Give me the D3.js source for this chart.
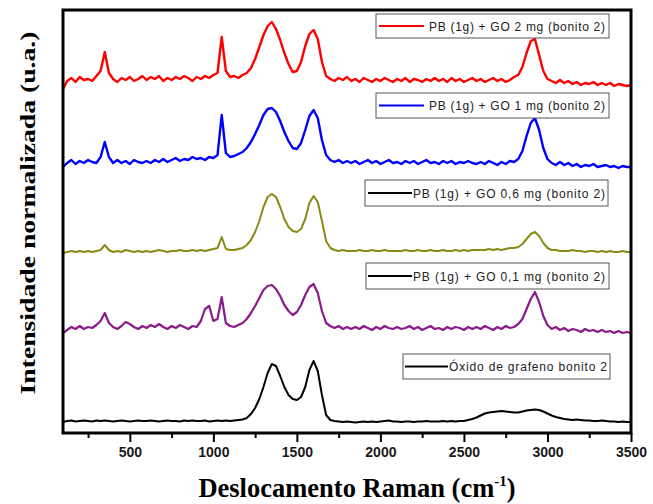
<!DOCTYPE html>
<html><head><meta charset="utf-8">
<script src="https://cdn.jsdelivr.net/npm/d3@7"></script>
<style>body{margin:0;background:#fff}svg{display:block}</style>
</head><body>
<script>
// Raman shift grid (cm-1)
const shift = [100,125,150,175,200,225,250,275,300,325,
350,375,400,425,450,475,500,525,550,575,
600,625,650,675,700,725,750,775,800,825,
850,875,900,925,950,975,1000,1025,1050,1075,
1100,1125,1150,1175,1200,1225,1250,1275,1300,1325,
1350,1375,1400,1425,1450,1475,1500,1525,1550,1575,
1600,1625,1650,1675,1700,1725,1750,1775,1800,1825,
1850,1875,1900,1925,1950,1975,2000,2025,2050,2075,
2100,2125,2150,2175,2200,2225,2250,2275,2300,2325,
2350,2375,2400,2425,2450,2475,2500,2525,2550,2575,
2600,2625,2650,2675,2700,2725,2750,2775,2800,2825,
2850,2875,2900,2925,2950,2975,3000,3025,3050,3075,
3100,3125,3150,3175,3200,3225,3250,3275,3300,3325,
3350,3375,3400,3425,3450,3475,3500];

// normalized intensity (stacked, arbitrary units)
const oxidoGrafeno = [11,12,12.5,11.5,12,12.5,12,11.5,12.5,12,
12.5,12,11.5,12,12.5,12,11.5,12,12.5,12,
12,12.5,12,11.5,12,12.5,12,12,11.5,12.5,
12,12.5,12,12,12.5,11.5,12,12.5,12,12.5,
12,12.5,13,13.5,15,19,25,34,46,60,
69,67,57,46,38,34,33,36,46,63,
72,62,38,18,13,12,11.5,11,11.5,11,
10.5,11,11.5,11,11.5,11,11.5,12,12.5,11.5,
11.5,11,11.5,11.5,11,11.5,11.5,12,11.5,11.5,
11.5,12,11.5,12,11.5,12,12,13,14,15.5,
17.5,19.5,20.5,21,21.5,22,21.5,21,20.5,20.5,
21.5,22.5,23,23.5,23,21.5,19.5,17.5,16,15,
14,13.5,13,13.5,13,12.5,12.5,12,12,12.5,
12,11.5,11.5,11,11.5,11,11];

const go01 = [100,103,106,104,107,104,106,105,108,112,
120,110,106,104,107,111,109,106,104,107,
105,108,106,109,106,104,107,105,108,106,
104,107,106,112,124,127,112,114,136,110,
107,106,108,110,114,120,127,135,143,147,
148,144,137,128,122,118,121,128,138,146,
149,140,122,110,107,105,107,104,106,104,
106,104,107,105,103,106,104,107,105,104,
106,104,105,107,104,106,103,105,107,104,
105,103,106,104,106,105,103,106,104,106,
104,107,105,103,106,104,107,105,106,109,
114,124,134,141,131,117,108,104,106,103,
105,102,104,103,101,104,102,103,101,103,
101,102,100,102,100,101,100];

const go06 = [180,181,182,181,182,181,182,181,182,183,
188,183,181,182,181,183,182,181,182,181,
182,181,182,183,182,181,182,182,183,182,
182,183,182,183,182,183,184,185,196,184,
183,183,184,185,188,193,201,212,226,236,
239,236,226,214,206,202,201,204,214,230,
237,231,212,192,185,183,182,183,182,182,
182,183,182,182,183,182,182,183,182,182,
182,182,183,182,182,183,182,182,183,182,
182,183,182,182,183,182,183,182,183,183,
183,183,184,183,184,183,184,185,185,186,
189,194,199,201,197,190,185,183,183,182,
182,182,183,182,182,181,182,182,181,182,
181,182,181,181,182,181,181];

const go1 = [266,270,273,269,272,270,273,271,270,276,
291,276,270,273,270,272,269,273,271,270,
272,270,273,271,274,271,273,275,272,274,
273,276,274,275,273,276,275,278,318,280,
276,277,279,281,285,291,299,308,318,324,
325,321,312,301,292,285,284,290,303,317,
323,315,293,278,273,271,273,270,272,270,
272,269,271,273,270,272,269,271,273,270,
271,269,272,270,272,269,271,273,270,271,
269,272,270,272,269,271,270,272,270,269,
271,269,272,270,268,271,269,272,271,274,
282,297,310,315,303,285,274,270,268,271,
268,270,267,269,266,268,267,269,266,267,
268,266,267,265,267,266,266];

const go2 = [344,352,355,351,356,353,354,352,357,362,
381,360,354,351,355,353,356,352,354,357,
353,356,354,357,352,355,353,356,354,357,
355,352,356,354,357,355,358,360,396,362,
356,357,355,358,360,365,374,386,398,407,
411,404,393,380,369,361,362,371,387,399,
403,394,371,357,354,352,355,353,356,352,
354,351,355,353,351,354,352,355,353,351,
354,352,355,351,354,353,351,354,352,355,
352,354,351,355,352,354,351,353,355,352,
354,351,353,355,352,354,351,353,356,358,
366,380,392,394,378,362,354,352,350,353,
350,352,349,351,348,350,349,351,348,350,
348,350,347,349,348,347,348];

const seriesNames = ["PB (1g) + GO 2 mg (bonito 2)","PB (1g) + GO 1 mg (bonito 2)","PB (1g) + GO 0,6 mg (bonito 2)","PB (1g) + GO 0,1 mg (bonito 2)","Óxido de grafeno bonito 2"];
const seriesValues = [go2, go1, go06, go01, oxidoGrafeno];
const seriesColors = ["#ff0000","#0000ff","#8a8a14","#8b1a8b","#000000"];
const seriesWidths = [2.4,2.4,2,2.2,2];
const legendColors = ["#ff0000","#0000ff","#000000","#000000","#000000"];
const xTicks = [500,1000,1500,2000,2500,3000,3500];
const xMinorTicks = [250,750,1250,1750,2250,2750,3250];

const W=653,H=504;
const svg=d3.select("body").append("svg").attr("width",W).attr("height",H);
const x=d3.scaleLinear().domain([100,3500]).range([63,631]);
const y=d3.scaleLinear().domain([0,423]).range([433,10]);

const line=d3.line().x((d,i)=>x(shift[i])).y(d=>y(d));
seriesValues.forEach((vals,k)=>{
  svg.append("path").datum(vals).attr("d",line)
    .attr("fill","none").attr("stroke",seriesColors[k])
    .attr("stroke-width",seriesWidths[k]).attr("stroke-linejoin","round");
});

// axes
const gx=svg.append("g").attr("transform","translate(0,433)");
gx.call(d3.axisBottom(x).tickValues(xTicks).tickSize(9).tickFormat(d3.format("d")));
gx.select(".domain").remove();
gx.selectAll(".tick line").attr("stroke","#000").attr("stroke-width",2);
gx.selectAll(".tick text").attr("font-family","'Liberation Sans',Arial,sans-serif")
  .attr("font-weight","bold").attr("font-size","14px").attr("fill","#1a1a1a").attr("dy","0.85em");
const gm=svg.append("g").attr("transform","translate(0,433)");
gm.call(d3.axisBottom(x).tickValues(xMinorTicks).tickSize(5).tickFormat(""));
gm.select(".domain").remove();
gm.selectAll(".tick line").attr("stroke","#000").attr("stroke-width",2);

// frame
svg.append("rect").attr("x",63).attr("y",10).attr("width",568).attr("height",423)
  .attr("fill","none").attr("stroke","#000").attr("stroke-width",3);

// legends
const legendBoxes=[
 {x:376,y:14,w:233,h:24,lx1:379,lx2:424,tx:429,tw:176},
 {x:376,y:93,w:233,h:25,lx1:379,lx2:424,tx:429,tw:176},
 {x:365,y:180,w:243,h:26,lx1:368,lx2:412,tx:413,tw:192},
 {x:366,y:263,w:243,h:26,lx1:368,lx2:412,tx:413,tw:192},
 {x:403,y:354,w:207,h:25,lx1:405,lx2:448,tx:449,tw:158}
];
legendBoxes.forEach((b,k)=>{
  const g=svg.append("g");
  g.append("rect").attr("x",b.x).attr("y",b.y).attr("width",b.w).attr("height",b.h)
   .attr("fill","#fff").attr("stroke","#555").attr("stroke-width",1);
  const cy=b.y+b.h/2;
  g.append("line").attr("x1",b.lx1).attr("x2",b.lx2).attr("y1",cy).attr("y2",cy)
   .attr("stroke",legendColors[k]).attr("stroke-width",2);
  g.append("text").attr("x",b.tx).attr("y",cy+4.5).text(seriesNames[k])
   .attr("font-family","'Liberation Sans',Arial,sans-serif").attr("font-size","12px")
   .attr("fill","#222").attr("textLength",b.tw).attr("lengthAdjust","spacing");
});

// titles
const xt=svg.append("text").attr("x",357).attr("y",497).attr("text-anchor","middle")
  .attr("font-family","'Liberation Serif','Times New Roman',serif").attr("font-weight","bold")
  .attr("font-size","26.5px").attr("fill","#000");
xt.append("tspan").text("Deslocamento Raman (cm");
xt.append("tspan").text("-1").attr("font-size","15px").attr("dy","-11");
xt.append("tspan").text(")").attr("dy","11");

svg.append("text").attr("transform","translate(35,213) rotate(-90)").attr("text-anchor","middle")
  .attr("font-family","'Liberation Serif','Times New Roman',serif").attr("font-weight","bold")
  .attr("font-size","21px").attr("fill","#000")
  .attr("textLength",363).attr("lengthAdjust","spacingAndGlyphs")
  .text("Intensidade normalizada (u.a.)");
</script>
</body></html>
